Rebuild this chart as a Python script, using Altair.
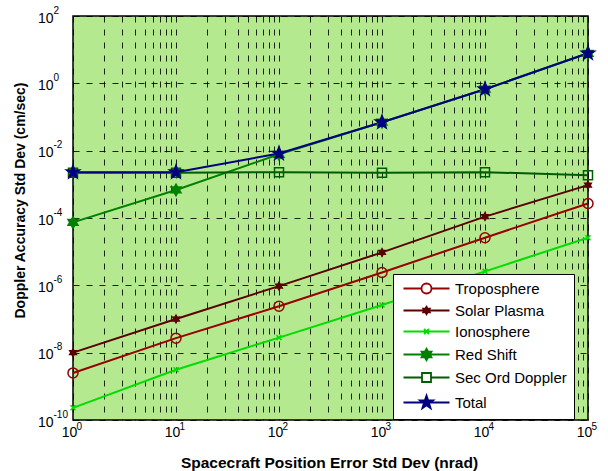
import math
import altair as alt
import pandas as pd

# ---------------- data ----------------
x_values = [1, 10, 100, 1000, 10000, 100000]
series_names = ["Troposphere", "Solar Plasma", "Ionosphere", "Red Shift",
                "Sec Ord Doppler", "Total"]
troposphere = [2.5e-9, 2.7e-8, 2.4e-7, 2.4e-6, 2.6e-5, 2.7e-4]
solar_plasma = [1.0e-8, 1.0e-7, 9.5e-7, 9.5e-6, 1.1e-4, 9.5e-4]
ionosphere = [2.3e-10, 3.1e-9, 2.8e-8, 2.6e-7, 2.6e-6, 2.6e-5]
red_shift = [7.4e-5, 6.8e-4, 7.8e-3, 7.0e-2, 6.7e-1, 7.8]
sec_ord_doppler = [2.2e-3, 2.2e-3, 2.3e-3, 2.2e-3, 2.3e-3, 1.85e-3]
total = [2.3e-3, 2.3e-3, 8.2e-3, 7.0e-2, 6.7e-1, 7.8]

y_tick_values = [1e-10, 1e-8, 1e-6, 1e-4, 1e-2, 1e0, 1e2]
x_label_values = [1, 10, 100, 1000, 10000, 100000]
x_grid_values = [m * d for d in [1, 10, 100, 1000, 10000] for m in range(1, 10)] + [100000]

series_values = [troposphere, solar_plasma, ionosphere, red_shift, sec_ord_doppler, total]
rows = []
for name, vals in zip(series_names, series_values):
    for xv, yv in zip(x_values, vals):
        rows.append({"series": name, "x": xv, "value": yv})
df = pd.DataFrame(rows)

# ---------------- styles ----------------
colors = ["#990000", "#5a0000", "#00dd00", "#008000", "#005c00", "#000080"]
fills = ["transparent", "#5a0000", "#00dd00", "#008000", "transparent", "#000080"]


def star(n, R, r):
    pts = []
    for k in range(2 * n):
        ang = -math.pi / 2 + k * math.pi / n
        rad = R if k % 2 == 0 else r
        pts.append(f"{rad * math.cos(ang):.3f},{rad * math.sin(ang):.3f}")
    return "M" + "L".join(pts) + "Z"


circle = "M1,0A1,1,0,1,1,-1,0A1,1,0,1,1,1,0Z"
square = "M-0.9,-0.9L0.9,-0.9L0.9,0.9L-0.9,0.9Z"
xmark = "M-0.5,-0.5L0.5,0.5M-0.5,0.5L0.5,-0.5"
solar = star(6, 0.75, 0.43)
hexa = star(6, 1.15, 0.66)
star5 = star(5, 1.4, 0.56)

marker_paths = [circle, solar, xmark, hexa, square, star5]
gaps = [1.0, 0, 0, 0, 0.9, 0]


def with_line(path, gap):
    if gap > 0:
        return f"M-4.6,0L-{gap},0M{gap},0L4.6,0" + path
    return "M-4.6,0L4.6,0" + path


legend_paths = [with_line(p, g) for p, g in zip(marker_paths, gaps)]

FONT = "Liberation Sans"
x_scale = alt.Scale(type="log", domain=[1, 1e5], nice=False)
y_scale = alt.Scale(type="log", domain=[1e-10, 1e2], nice=False)
is_decade = "abs(log(datum.value)/LN10 - round(log(datum.value)/LN10)) < 0.001"
exp_expr = "'' + round(log(datum.value)/LN10)"

base = alt.Chart(df)

lines = base.mark_line(strokeWidth=2).encode(
    x=alt.X("x:Q", scale=x_scale, axis=alt.Axis(
        values=x_grid_values, labelExpr=f"{is_decade} ? '10' : ''",
        grid=True, gridColor="black", gridDash=[6, 7], gridOpacity=0.85, gridWidth=1,
        labelFontSize=14, labelAlign="center", labelBaseline="top", labelPadding=5,
        labelOffset=-4, labelOverlap=False, labelFlush=False,
        title="Spacecraft Position Error Std Dev (nrad)", titleFontSize=15.5,
        titleFontWeight="bold", titleX=256, titleY=42, titleBaseline="middle",
        titleAlign="center", orient="bottom")),
    y=alt.Y("value:Q", scale=y_scale, axis=alt.Axis(
        values=y_tick_values, labelExpr="'10'",
        grid=True, gridColor="black", gridDash=[6, 7], gridOpacity=0.85, gridWidth=1,
        labelFontSize=14, labelAlign="right", labelBaseline="middle", labelPadding=20,
        labelOffset=2, labelOverlap=False, labelFlush=False,
        title="Doppler Accuracy Std Dev (cm/sec)", titleFontSize=14,
        titleFontWeight="bold", titleX=-53, titleY=184, titleAngle=270,
        titleBaseline="middle", titleAlign="center", orient="left")),
    stroke=alt.Stroke("series:N", scale=alt.Scale(domain=series_names, range=colors),
                      legend=None),
)

points = base.mark_point(size=100, strokeWidth=1.5, opacity=1).encode(
    x=alt.X("x:Q", scale=x_scale, axis=alt.Axis(
        values=x_label_values, labelExpr=exp_expr, grid=False,
        labelFontSize=10, labelAlign="left", labelBaseline="top", labelPadding=1,
        labelOffset=3, labelOverlap=False, labelFlush=False, title=None, orient="bottom")),
    y=alt.Y("value:Q", scale=y_scale, axis=alt.Axis(
        values=y_tick_values, labelExpr=exp_expr, grid=False,
        labelFontSize=10, labelAlign="left", labelBaseline="middle", labelPadding=20,
        labelOffset=-6, labelOverlap=False, labelFlush=False, title=None, orient="left")),
    shape=alt.Shape("series:N", scale=alt.Scale(domain=series_names, range=marker_paths),
                    legend=None),
    stroke=alt.Stroke("series:N", scale=alt.Scale(domain=series_names, range=colors),
                      legend=None),
    fill=alt.Fill("series:N", scale=alt.Scale(domain=series_names, range=fills),
                  legend=None),
)

legend_layer = base.mark_point(size=100, strokeWidth=1.8, opacity=1).encode(
    x=alt.X("x:Q", scale=x_scale, axis=None),
    y=alt.Y("value:Q", scale=y_scale, axis=None),
    shape=alt.Shape("series:N", scale=alt.Scale(domain=series_names, range=legend_paths),
                    legend=alt.Legend(title=None)),
    stroke=alt.Stroke("series:N", scale=alt.Scale(domain=series_names, range=colors),
                      legend=alt.Legend(title=None)),
    fill=alt.Fill("series:N", scale=alt.Scale(domain=series_names, range=fills),
                  legend=alt.Legend(title=None)),
).transform_filter("datum.value < 0")

chart = alt.layer(lines, points, legend_layer).resolve_scale(
    stroke="independent", fill="independent", shape="independent"
).resolve_axis(
    x="independent", y="independent"
).properties(
    width=515, height=404,
    padding={"left": 73, "top": 16, "right": 20, "bottom": 51},
    autosize=alt.AutoSizeParams(type="none"),
    background="white",
).configure_view(
    fill="#b5e98f", stroke="black", strokeWidth=1.5
).configure_axis(
    labelFont=FONT, titleFont=FONT, labelColor="black", titleColor="black",
    domain=False, ticks=False, tickSize=0
).configure_legend(
    orient="none", legendX=320, legendY=258, fillColor="white", strokeColor="black",
    padding=7, rowPadding=5, symbolSize=100, symbolOffset=19, labelOffset=21,
    labelFont=FONT, labelFontSize=15, labelColor="black", symbolStrokeWidth=1.8,
    direction="vertical"
)

chart.save("out.html", embed_options={"renderer": "svg", "actions": False})
